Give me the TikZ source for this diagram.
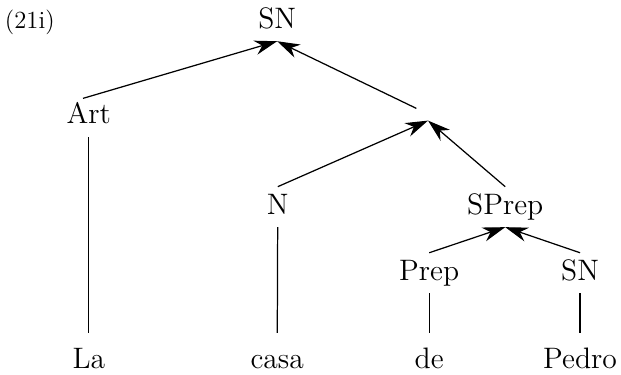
\documentclass[tikz,border=0pt]{standalone}
\usepackage{tikz}
\usetikzlibrary{arrows.meta}

\begin{document}
\begin{tikzpicture}[
    cat/.style={anchor=base, font=\fontsize{14.4}{17}\selectfont, inner sep=3.5pt, text height=9.6pt, text depth=2.7pt},
    word/.style={cat, inner ysep=7.5pt},
    arrow/.style={-{Stealth[length=11pt, width=7pt, inset=3.5pt]}, line width=0.6pt},
    branch/.style={line width=0.6pt}]
  \useasboundingbox (0,0) rectangle (10.62,6.40);
  \node[anchor=base, font=\fontsize{12}{14}\selectfont] (ex) at (0.51,5.92) {(21i)};
  \node[cat] (sn) at (4.74,5.92) {SN};
  \node[cat] (art) at (1.52,4.28) {Art};
  \node[inner xsep=5.5pt, inner ysep=3pt] (sbar) at (7.32,4.45) {};
  \node[cat] (n) at (4.75,2.74) {N};
  \node[cat] (sprep) at (8.64,2.74) {SPrep};
  \node[cat] (prep) at (7.34,1.61) {Prep};
  \node[cat] (snb) at (9.92,1.61) {SN};
  \node[word] (la) at (1.52,0.10) {La};
  \node[word] (casa) at (4.74,0.10) {casa};
  \node[word] (de) at (7.34,0.10) {de};
  \node[word] (pedro) at (9.92,0.10) {Pedro};
  \draw[arrow, shorten <=-3pt] (art.north) -- (sn.south);
  \draw[arrow] (sbar) -- (sn.south);
  \draw[arrow] (n.north) -- (sbar.south);
  \draw[arrow] (sprep.north) -- (sbar.south);
  \draw[arrow] (prep.north) -- (sprep.south);
  \draw[arrow] (snb.north) -- (sprep.south);
  \draw[branch] (art) -- (la);
  \draw[branch] (n) -- (casa);
  \draw[branch] (prep) -- (de);
  \draw[branch] (snb) -- (pedro);
\end{tikzpicture}
\end{document}
